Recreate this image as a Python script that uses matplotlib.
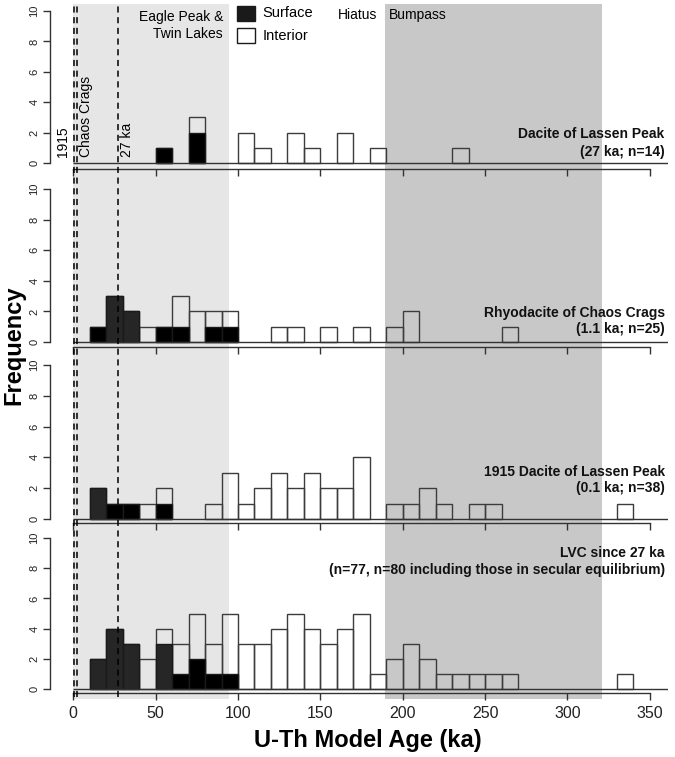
#!/usr/bin/python3
'''
U-Th model age histograms, Lassen Volcanic Center
'''

#------------------
# Import
#------------------

import numpy as np
import matplotlib
matplotlib.use('Agg')
import matplotlib.pyplot as plt
from matplotlib.patches import Rectangle

#------------------
# Variables
#------------------

bin_width = 10
bin_left = np.arange(0, 350, bin_width)  # 0, 10, ..., 340

# counts per 10 ka bin (total = surface + interior)
p1_total = [0, 0, 0, 0, 0, 1, 0, 3, 0, 0, 2, 1, 0, 2, 1, 0, 2, 0, 1, 0,
            0, 0, 0, 1, 0, 0, 0, 0, 0, 0, 0, 0, 0, 0, 0]
p1_surface = [0, 0, 0, 0, 0, 1, 0, 2, 0, 0, 0, 0, 0, 0, 0, 0, 0, 0, 0, 0,
              0, 0, 0, 0, 0, 0, 0, 0, 0, 0, 0, 0, 0, 0, 0]

p2_total = [0, 1, 3, 2, 1, 1, 3, 2, 2, 2, 0, 0, 1, 1, 0, 1, 0, 1, 0, 1,
            2, 0, 0, 0, 0, 0, 1, 0, 0, 0, 0, 0, 0, 0, 0]
p2_surface = [0, 1, 3, 2, 0, 1, 1, 0, 1, 1, 0, 0, 0, 0, 0, 0, 0, 0, 0, 0,
              0, 0, 0, 0, 0, 0, 0, 0, 0, 0, 0, 0, 0, 0, 0]

p3_total = [0, 2, 1, 1, 1, 2, 0, 0, 1, 3, 1, 2, 3, 2, 3, 2, 2, 4, 0, 1,
            1, 2, 1, 0, 1, 1, 0, 0, 0, 0, 0, 0, 0, 1, 0]
p3_surface = [0, 2, 1, 1, 0, 1, 0, 0, 0, 0, 0, 0, 0, 0, 0, 0, 0, 0, 0, 0,
              0, 0, 0, 0, 0, 0, 0, 0, 0, 0, 0, 0, 0, 0, 0]

p4_total = [0, 2, 4, 3, 2, 4, 3, 5, 3, 5, 3, 3, 4, 5, 4, 3, 4, 5, 1, 2,
            3, 2, 1, 1, 1, 1, 1, 0, 0, 0, 0, 0, 0, 1, 0]
p4_surface = [0, 2, 4, 3, 0, 3, 1, 2, 1, 1, 0, 0, 0, 0, 0, 0, 0, 0, 0, 0,
              0, 0, 0, 0, 0, 0, 0, 0, 0, 0, 0, 0, 0, 0, 0]

# bins whose surface bar is drawn dark grey instead of black
p1_dark = []
p2_dark = [2, 3]
p3_dark = [1]
p4_dark = [1, 2, 3, 5]

panel_titles = [
    ("Dacite of Lassen Peak", "(27 ka; n=14)"),
    ("Rhyodacite of Chaos Crags", "(1.1 ka; n=25)"),
    ("1915 Dacite of Lassen Peak", "(0.1 ka; n=38)"),
    ("LVC since 27 ka", "(n=77, n=80 including those in secular equilibrium)"),
]

eruption_ages = [0.2, 2.4, 27]          # dashed lines (ka)
eagle_peak_span = (0, 94.4)             # light grey band
bumpass_span = (189, 321)               # dark grey band

x_ticks = [0, 50, 100, 150, 200, 250, 300, 350]
y_ticks = [0, 2, 4, 6, 8, 10]

#------------------
# Layout (pixels)
#------------------

W, H = 675, 757
X_LEFT, X_RIGHT = 50, 668
XLIM = (-14.1, 361)
# (top of y=10, y=0 baseline, x axis line)
PANEL_PX = [(11, 163, 169), (189, 342, 347), (365, 519, 523), (538, 689, 693)]

plt.rcParams['font.family'] = ['Liberation Sans', 'DejaVu Sans']
AXIS_COL = '#333333'


def fig_rect(left, top, right, bottom):
    """Pixel box -> figure fraction rect."""
    return [left / W, 1 - bottom / H, (right - left) / W, (bottom - top) / H]


def draw_panel(fig, px, total, surface, dark, last):
    """
        Draws one stacked histogram panel (interior outline + surface fill).
    """
    top, base, axis_y = px
    ax = fig.add_axes(fig_rect(X_LEFT, top, X_RIGHT, axis_y))
    ax.patch.set_visible(False)
    ymin = -10 * (axis_y - base) / (base - top)
    ax.set_xlim(*XLIM)
    ax.set_ylim(ymin, 10)

    total = np.array(total)
    surface = np.array(surface)
    keep = total > 0
    ax.bar(bin_left[keep], total[keep], width=bin_width, align='edge',
           facecolor='none', edgecolor='#3c3c3c', linewidth=1.0, zorder=2)
    keep = surface > 0
    cols = ['#262626' if i in dark else '#000000' for i in np.where(keep)[0]]
    ax.bar(bin_left[keep], surface[keep], width=bin_width, align='edge',
           color=cols, edgecolor='#1a1a1a', linewidth=1.0, zorder=3)

    ax.hlines(0, 0, XLIM[1], color=AXIS_COL, linewidth=1.0, zorder=4)

    for s in ['top', 'right']:
        ax.spines[s].set_visible(False)
    ax.spines['left'].set_bounds(0, 10)
    ax.spines['bottom'].set_bounds(0, 350)
    for s in ['left', 'bottom']:
        ax.spines[s].set_color(AXIS_COL)
        ax.spines[s].set_linewidth(1.0)

    ax.set_yticks(y_ticks)
    ax.set_yticklabels([str(v) for v in y_ticks], rotation=90, va='center')
    ax.tick_params(axis='y', length=5, width=1, color=AXIS_COL, labelsize=8,
                   pad=2.5, labelcolor='#222222')
    ax.set_xticks(x_ticks)
    if last:
        ax.set_xticklabels([str(v) for v in x_ticks])
    else:
        ax.set_xticklabels([])
    ax.tick_params(axis='x', length=5, width=1, color=AXIS_COL, labelsize=11.5,
                   pad=4, labelcolor='#222222')

    return ax

#------------------
# Main
#------------------

if __name__ == '__main__':
    fig = plt.figure(figsize=(W / 100, H / 100), dpi=100)

    # background bands spanning all panels
    bg = fig.add_axes(fig_rect(X_LEFT, 4, X_RIGHT, 699))
    bg.set_zorder(-1)
    bg.set_xlim(*XLIM)
    bg.set_ylim(0, 1)
    bg.axis('off')
    bg.axvspan(*eagle_peak_span, color='#e6e6e6', linewidth=0)
    bg.axvspan(*bumpass_span, color='#c8c8c8', linewidth=0)

    panels = [
        (p1_total, p1_surface, p1_dark),
        (p2_total, p2_surface, p2_dark),
        (p3_total, p3_surface, p3_dark),
        (p4_total, p4_surface, p4_dark),
    ]
    label_y = [(1.9, 0.72), (1.88, 0.83), (3.07, 2.0), (9.0, 7.9)]
    axes = []
    for i, (tot, surf, dark) in enumerate(panels):
        ax = draw_panel(fig, PANEL_PX[i], tot, surf, dark, i == 3)
        l1, l2 = panel_titles[i]
        ax.text(359, label_y[i][0], l1, ha='right', va='center',
                fontsize=10, fontweight='bold', color='#111111', zorder=6)
        ax.text(359, label_y[i][1], l2, ha='right', va='center',
                fontsize=10, fontweight='bold', color='#111111', zorder=6)
        axes.append(ax)

    # dashed eruption lines drawn over the bars
    ov = fig.add_axes(fig_rect(X_LEFT, 4, X_RIGHT, 697))
    ov.set_zorder(10)
    ov.patch.set_visible(False)
    ov.set_xlim(*XLIM)
    ov.set_ylim(0, 1)
    ov.axis('off')
    ov.vlines(eruption_ages, 0, 1, colors='black', linewidth=1.1,
              linestyles=(0, (4, 3)))

    # labels in the top panel
    ax1 = axes[0]
    ax1.text(-6, 0.4, "1915", rotation=90, ha='center', va='bottom', fontsize=10)
    ax1.text(8, 0.4, "Chaos Crags", rotation=90, ha='center', va='bottom', fontsize=10)
    ax1.text(32.5, 0.4, "27 ka", rotation=90, ha='center', va='bottom', fontsize=10)

    fig.text(223 / W, 1 - 17 / H, "Eagle Peak &", ha='right', va='center', fontsize=10)
    fig.text(223 / W, 1 - 34 / H, "Twin Lakes", ha='right', va='center', fontsize=10)
    fig.text(338 / W, 1 - 15 / H, "Hiatus", ha='left', va='center', fontsize=10)
    fig.text(389 / W, 1 - 15 / H, "Bumpass", ha='left', va='center', fontsize=10)

    # legend
    fig.patches.append(Rectangle((237 / W, 1 - 21 / H), 18 / W, 15 / H, transform=fig.transFigure,
                                 facecolor='#1a1a1a', edgecolor='#1a1a1a', linewidth=1))
    fig.patches.append(Rectangle((237 / W, 1 - 43 / H), 18 / W, 15 / H, transform=fig.transFigure,
                                 facecolor='white', edgecolor='#1a1a1a', linewidth=1))
    fig.text(262 / W, 1 - 13 / H, "Surface", ha='left', va='center', fontsize=10.5)
    fig.text(263 / W, 1 - 36 / H, "Interior", ha='left', va='center', fontsize=10.5)

    fig.text(368 / W, 1 - 741 / H, "U-Th Model Age (ka)", ha='center', va='center',
             fontsize=17, fontweight='bold')
    fig.text(14 / W, 1 - 345 / H, "Frequency", ha='center', va='center', rotation=90,
             fontsize=17, fontweight='bold')

    fig.savefig('out.png', dpi=100)
